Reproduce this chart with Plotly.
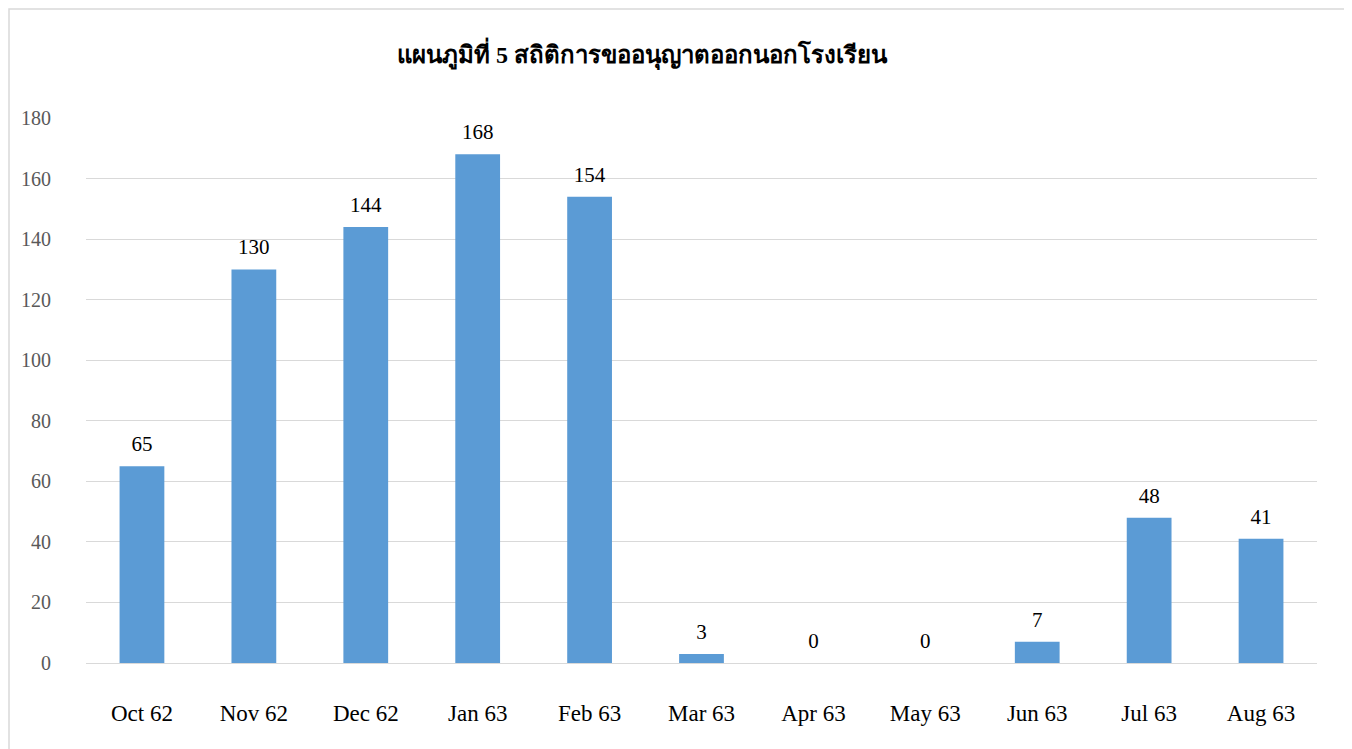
import plotly.graph_objects as go

categories = ["Oct 62", "Nov 62", "Dec 62", "Jan 63", "Feb 63", "Mar 63",
              "Apr 63", "May 63", "Jun 63", "Jul 63", "Aug 63"]
values = [65, 130, 144, 168, 154, 3, 0, 0, 7, 48, 41]
y_ticks = [0, 20, 40, 60, 80, 100, 120, 140, 160, 180]
title_text = "แผนภูมิที่ 5 สถิติการขออนุญาตออกนอกโรงเรียน"

SERIF = "Liberation Serif, Times New Roman, serif"

fig = go.Figure()
fig.add_trace(go.Bar(
    x=categories, y=values,
    marker=dict(color="#5B9BD5", line=dict(width=0)),
    hoverinfo="x+y",
))
fig.add_trace(go.Scatter(
    x=categories, y=values,
    mode="markers+text",
    marker=dict(size=14, opacity=0),
    text=[str(v) for v in values],
    textposition="top center",
    textfont=dict(family=SERIF, size=21, color="#000000"),
    cliponaxis=False,
    hoverinfo="skip",
))

W, H = 1352, 749
L, R, T, B = 78, 43, 110, 94
pw, ph = W - L - R, H - T - B

def px_x(x):
    return (x - L) / pw

def px_y(y):
    return (H - B - y) / ph

fig.update_layout(
    width=W, height=H,
    margin=dict(l=L, r=R, t=T, b=B, autoexpand=False),
    paper_bgcolor="white", plot_bgcolor="white",
    bargap=0.6,
    showlegend=False,
    title=dict(text="<b>" + title_text + "</b>", x=634 / W, xanchor="center",
               y=1 - 47 / H, yanchor="middle", xref="container",
               font=dict(family=SERIF, size=24, color="#000000")),
    xaxis=dict(
        range=[-0.5, len(categories) - 0.5],
        showgrid=False, showline=False, zeroline=False, ticks="",
        tickfont=dict(family=SERIF, size=23, color="#000000"),
        ticklabelstandoff=34,
    ),
    yaxis=dict(
        range=[0, 180], tickvals=y_ticks,
        showgrid=True, gridcolor="#D9D9D9", gridwidth=1,
        zeroline=True, zerolinecolor="#D9D9D9", zerolinewidth=1,
        showline=False, ticks="",
        tickfont=dict(family=SERIF, size=20, color="#595959"),
        ticklabelstandoff=34,
    ),
    shapes=[dict(type="rect", xref="paper", yref="paper",
                 x0=px_x(1), x1=px_x(1337), y0=px_y(760), y1=px_y(1),
                 line=dict(color="#D9D9D9", width=1.5), layer="below")],
)

fig.write_html("out.html")
